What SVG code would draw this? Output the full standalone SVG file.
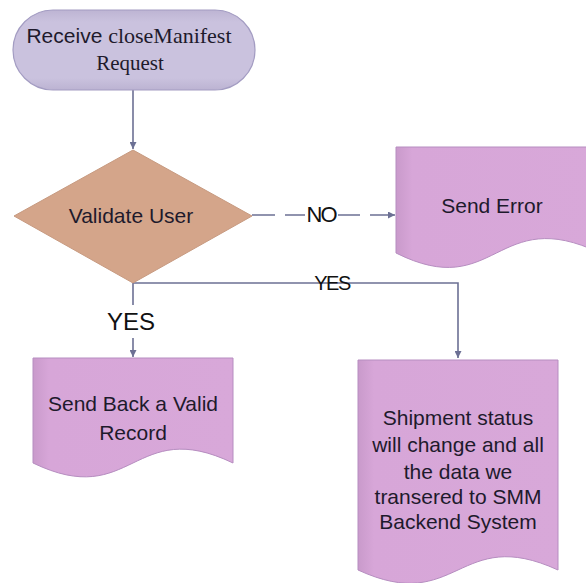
<svg xmlns="http://www.w3.org/2000/svg" width="586" height="583" viewBox="0 0 586 583">
<defs>
  <linearGradient id="docGrad" x1="0" y1="0" x2="1" y2="0">
    <stop offset="0" stop-color="#C99ACB"/>
    <stop offset="0.08" stop-color="#D7A6D8"/>
    <stop offset="1" stop-color="#D8A8D9"/>
  </linearGradient>
  <linearGradient id="termGrad" x1="0" y1="0" x2="0" y2="1">
    <stop offset="0" stop-color="#BDB4D3"/>
    <stop offset="0.15" stop-color="#CAC2DE"/>
    <stop offset="0.85" stop-color="#CAC2DE"/>
    <stop offset="1" stop-color="#BCB3D2"/>
  </linearGradient>
  <marker id="arrow" viewBox="0 0 10 10" refX="10" refY="5" markerWidth="7" markerHeight="7" markerUnits="userSpaceOnUse" orient="auto">
    <path d="M0,0 L10,5 L0,10 Z" fill="#6C7094"/>
  </marker>
</defs>
<style>
  .conn { fill: none; stroke: #6C7094; stroke-width: 1.6; }
  .doc { fill: url(#docGrad); stroke: #B68DC0; stroke-width: 1; }
  .txt { font-family: "Liberation Sans", Arial, sans-serif; font-size: 21px; fill: #1E1A2C; text-anchor: middle; }
  .serif { font-family: "Liberation Serif", "Times New Roman", serif; }
  .lbl { font-family: "Liberation Sans", Arial, sans-serif; fill: #111; text-anchor: middle; }
</style>

<g id="connectors">
  <path class="conn" d="M133,90 V149" marker-end="url(#arrow)"/>
  <path class="conn" d="M252,215 H275 M285,215 H305 M338,215 H360 M370,215 H395" marker-end="url(#arrow)"/>
  <path class="conn" d="M133,283 H458 V358" marker-end="url(#arrow)"/>
  <path class="conn" d="M133,283 V305"/>
  <path class="conn" d="M133,338 V357" marker-end="url(#arrow)"/>
  <text class="lbl" x="321" y="222" font-size="22" letter-spacing="-2">NO</text>
  <text class="lbl" x="332" y="290" font-size="20" letter-spacing="-1.5">YES</text>
  <text class="lbl" x="131" y="330" font-size="24">YES</text>
</g>

<g id="start">
  <rect x="13" y="10" width="242" height="80" rx="40" ry="40" fill="url(#termGrad)" stroke="#A39CC2" stroke-width="1.2"/>
  <text class="txt" x="129" y="43">Receive <tspan class="serif" font-size="22">closeManifest</tspan></text>
  <text class="txt serif" x="130" y="70" font-size="22">Request</text>
</g>

<g id="validate">
  <polygon points="133,150 252,216 133,283 14,216" fill="#D4A58A" stroke="#C79A80" stroke-width="1"/>
  <text class="txt" x="131" y="223">Validate User</text>
</g>

<g id="send-error">
  <path class="doc" d="M396,147 H600 V253 C496,203 496,303 396,253 Z"/>
  <text class="txt" x="492" y="213">Send Error</text>
</g>

<g id="send-back">
  <path class="doc" d="M33,358 H233 V463 C133,415 133,511 33,463 Z"/>
  <text class="txt" x="133" y="411">Send Back a Valid</text>
  <text class="txt" x="133" y="440">Record</text>
</g>

<g id="shipment">
  <path class="doc" d="M358,360 H558 V570 C458,524 458,616 358,570 Z"/>
  <text class="txt" x="458" y="425">Shipment status</text>
  <text class="txt" x="458" y="452">will change and all</text>
  <text class="txt" x="458" y="479">the data we</text>
  <text class="txt" x="458" y="504">transered to SMM</text>
  <text class="txt" x="458" y="529">Backend System</text>
</g>
</svg>
